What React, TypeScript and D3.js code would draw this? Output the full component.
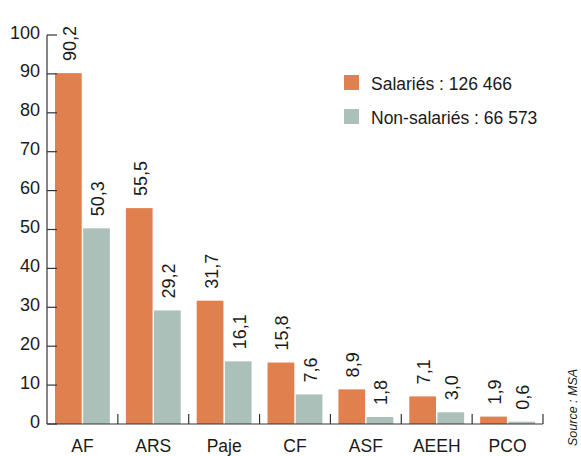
import React from "react";
import * as d3 from "d3";

const categories = ["AF", "ARS", "Paje", "CF", "ASF", "AEEH", "PCO"];
const salaries = [90.2, 55.5, 31.7, 15.8, 8.9, 7.1, 1.9];
const nonSalaries = [50.3, 29.2, 16.1, 7.6, 1.8, 3.0, 0.6];
const seriesNames = ["Salariés : 126 466", "Non-salariés : 66 573"];
const yTicks = [0, 10, 20, 30, 40, 50, 60, 70, 80, 90, 100];
const source = "Source : MSA";

const COLORS = ["#E0804F", "#AAC0B8"];
const FONT = "'Liberation Sans', Arial, Helvetica, sans-serif";

export default function App() {
  const W = 581, H = 456;
  const x0 = 47, x1 = 543, yTop = 35, yBase = 424;
  const x = d3.scaleBand<string>().domain(categories).range([x0, x1]).paddingInner(0).paddingOuter(0);
  const y = d3.scaleLinear().domain([0, 100]).range([yBase, yTop]);
  const inner = d3.scaleBand<string>().domain(["s", "n"]).range([8, x.bandwidth() - 8]).paddingInner(0.05);
  const series = [salaries, nonSalaries];
  const fmt = (v: number) => v.toFixed(1).replace(".", ",");
  const axisColor = "#333";
  const txtColor = "#1a1a1a";

  return (
    <svg width={W} height={H} style={{ position: "absolute", left: 0, top: 0, background: "#fff" }} fontFamily={FONT}>
      {/* bars */}
      {categories.map((c, i) =>
        series.map((s, k) => {
          const bx = (x(c) as number) + (inner(k === 0 ? "s" : "n") as number);
          const bw = inner.bandwidth();
          const v = s[i];
          const top = y(v);
          const lx = bx + bw / 2 + 1.5;
          const ly = top - 12;
          return (
            <g key={c + k}>
              <rect x={bx} y={top} width={bw} height={yBase - top} fill={COLORS[k]} />
              <text
                transform={`translate(${lx},${ly}) rotate(-90)`}
                dominantBaseline="central"
                fontSize={18}
                fill={txtColor}
              >
                {fmt(v)}
              </text>
            </g>
          );
        })
      )}
      {/* y axis */}
      <line x1={x0} x2={x0} y1={y(100)} y2={yBase} stroke={axisColor} strokeWidth={1.2} />
      {yTicks.map((t) => (
        <g key={t}>
          <line x1={x0} x2={x0 + 10} y1={y(t)} y2={y(t)} stroke={axisColor} strokeWidth={1.2} />
          <text x={40} y={y(t) + 3.5} textAnchor="end" fontSize={18} fill={txtColor}>
            {t}
          </text>
        </g>
      ))}
      {/* x axis */}
      <line x1={x0} x2={x1} y1={yBase} y2={yBase} stroke={axisColor} strokeWidth={1.2} />
      {categories.map((c, i) => (
        <g key={c}>
          {i > 0 && (
            <line x1={x(c)} x2={x(c)} y1={yBase - 10} y2={yBase} stroke={axisColor} strokeWidth={1.2} />
          )}
          <text x={(x(c) as number) + x.bandwidth() / 2} y={452} textAnchor="middle" fontSize={17.5} fill={txtColor}>
            {c}
          </text>
        </g>
      ))}
      <line x1={x1} x2={x1} y1={yBase - 10} y2={yBase} stroke={axisColor} strokeWidth={1.2} />
      {/* legend */}
      {seriesNames.map((n, k) => (
        <g key={n} transform={`translate(344,${75 + k * 34})`}>
          <rect x={0} y={0} width={15} height={15} fill={COLORS[k]} />
          <text x={27} y={14.5} fontSize={17.5} fill={txtColor}>
            {n}
          </text>
        </g>
      ))}
      {/* source */}
      <text
        transform={`translate(573,446) rotate(-90)`}
        dominantBaseline="central"
        fontSize={12.5}
        fontStyle="italic"
        fill={txtColor}
      >
        {source}
      </text>
    </svg>
  );
}
